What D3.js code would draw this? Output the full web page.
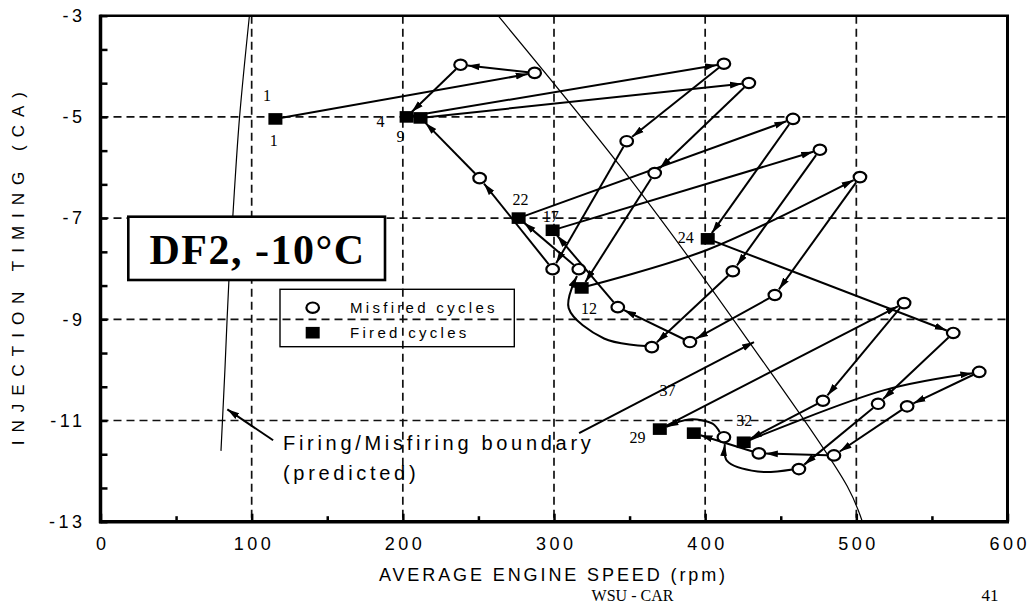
<!DOCTYPE html>
<html>
<head>
<meta charset="utf-8">
<script src="https://cdn.jsdelivr.net/npm/d3@7"></script>
<style>
  html, body { margin: 0; padding: 0; background: #fff; }
  svg { display: block; }
</style>
</head>
<body>
<svg id="chart" width="1031" height="605"></svg>
<script>
// Cycle-by-cycle record: average engine speed (rpm) and injection timing (deg CA)
const cycleNo = [1,2,3,4,5,6,7,8,9,10,11,12,13,14,15,16,17,18,19,20,21,22,23,24,25,26,27,28,29,30,31,32,33,34,35,36,37];
const engineSpeed = [115.7, 287.2, 238.2, 202.5, 412.4, 348.1, 299.1, 250.8, 211.7, 428.9,
                     366.6, 318.3, 502.4, 446.1, 389.9, 342.2, 299.1, 475.9, 418.3, 364.7,
                     316.4, 276.6, 458.1, 401.7, 564.1, 514.4, 462.0, 412.4, 370.0, 531.6,
                     477.9, 425.5, 581.3, 533.6, 485.2, 435.5, 392.5];
const injTiming = [-5.04, -4.13, -3.97, -5.00, -3.95, -5.48, -8.01, -6.21, -5.02, -4.33,
                   -6.11, -8.38, -6.19, -8.52, -9.45, -8.76, -7.24, -5.65, -8.05, -9.55,
                   -8.01, -7.00, -5.04, -7.41, -9.27, -10.67, -11.96, -11.33, -11.17, -8.68,
                   -10.61, -11.43, -10.04, -10.72, -11.69, -11.65, -11.25];
const firedCycles = [1, 4, 9, 12, 17, 22, 24, 29, 32, 37];

// Transitions drawn as bent paths: start cycle and intermediate points
const bendAfter = [12, 20, 27, 28, 32];
const bendSpeed = [[401.1], [333.1, 309.7], [434.7, 414.5], [404.9, 389.2], [518.5]];
const bendTiming = [[-7.63], [-9.38, -8.78], [-12.01, -11.80], [-11.06, -10.98], [-10.40]];

// Predicted firing/misfiring boundaries
const leftBoundarySpeed = [98.5, 92.0, 88.5, 85.0, 82.3, 79.7];
const leftBoundaryTiming = [-3.0, -5.0, -6.5, -8.2, -10.0, -11.6];
const rightBoundarySpeed = [263, 351, 428, 494, 504];
const rightBoundaryTiming = [-3.0, -6.25, -9.4, -12.3, -13.0];

// Cycle number annotations
const labelText = ['1', '1', '4', '9', '22', '17', '12', '24', '29', '32', '37'];
const labelSpeed = [110.2, 114.6, 185.2, 198.5, 277.9, 297.8, 323.2, 387.2, 355.2, 425.8, 375.1];
const labelTiming = [-4.57, -5.46, -5.09, -5.38, -6.63, -6.97, -8.78, -7.39, -11.33, -10.99, -10.40];

// Axes
const xTicks = d3.range(0, 601, 50);
const xTickLabels = [0, 100, 200, 300, 400, 500, 600];
const yTicks = d3.range(16).map(i => -3 - i * 2 / 3);
const yTickLabels = [-3, -5, -7, -9, -11, -13];
const xGrid = [100, 200, 300, 400, 500];
const yGrid = [-5, -7, -9, -11];

const SANS = "'Liberation Sans', Arial, sans-serif";
const SERIF = "'Liberation Serif', 'Times New Roman', serif";

const svg = d3.select('#chart');
const x = d3.scaleLinear().domain([0, 600]).range([100.5, 1007.5]);
const y = d3.scaleLinear().domain([-13, -3]).range([521.7, 15.7]);

const defs = svg.append('defs');
defs.append('marker')
  .attr('id', 'arrow')
  .attr('viewBox', '0 0 12 8')
  .attr('refX', 12).attr('refY', 4)
  .attr('markerWidth', 12).attr('markerHeight', 8)
  .attr('markerUnits', 'userSpaceOnUse')
  .attr('orient', 'auto')
  .append('path').attr('d', 'M0,0.6 L12,4 L0,7.4 Z').attr('fill', '#000');

// Dashed grid
const grid = svg.append('g').attr('stroke', '#111').attr('stroke-width', 1.7).attr('stroke-dasharray', '8,5');
grid.selectAll('line.v').data(xGrid).join('line')
  .attr('x1', d => x(d)).attr('x2', d => x(d))
  .attr('y1', y(-3)).attr('y2', y(-13));
grid.selectAll('line.h').data(yGrid).join('line')
  .attr('y1', d => y(d)).attr('y2', d => y(d))
  .attr('x1', x(0)).attr('x2', x(600));

// Boundary curves
const bLine = d3.line().x(d => x(d[0])).y(d => y(d[1])).curve(d3.curveCatmullRom.alpha(0.5));
svg.append('path')
  .attr('d', bLine(leftBoundarySpeed.map((s, i) => [s, leftBoundaryTiming[i]])))
  .attr('fill', 'none').attr('stroke', '#000').attr('stroke-width', 1.2);
svg.append('path')
  .attr('d', bLine(rightBoundarySpeed.map((s, i) => [s, rightBoundaryTiming[i]])))
  .attr('fill', 'none').attr('stroke', '#000').attr('stroke-width', 1.2);

// Axes with inward ticks
const xAxis = d3.axisBottom(x).tickValues(xTicks).tickSizeOuter(0).tickSize(-6).tickPadding(15.5)
  .tickFormat(d => xTickLabels.includes(d) ? String(d) : '');
const gx = svg.append('g').attr('transform', `translate(0,${y(-13)})`).call(xAxis);
gx.select('.domain').remove();
gx.selectAll('.tick line').attr('stroke', '#000').attr('stroke-width', 2.5)
  .attr('y2', d => xTickLabels.includes(d) ? -8 : -5.5);
gx.selectAll('.tick text').attr('fill', '#000')
  .style('font-family', SANS).style('font-size', '18px').style('letter-spacing', '3.5px')
  .attr('dx', 1.75);

const yAxis = d3.axisLeft(y).tickValues(yTicks).tickSizeOuter(0).tickSize(-7).tickPadding(15)
  .tickFormat(d => {
    const r = Math.round(d);
    return (Math.abs(d - r) < 1e-6 && yTickLabels.includes(r)) ? String(r) : '';
  });
const gy = svg.append('g').attr('transform', `translate(${x(0)},0)`).call(yAxis);
gy.select('.domain').remove();
gy.selectAll('.tick line').attr('stroke', '#000').attr('stroke-width', 2.5);
gy.selectAll('.tick text').attr('fill', '#000')
  .style('font-family', SANS).style('font-size', '18px').style('letter-spacing', '3.5px');

// Frame
const frame = svg.append('g').attr('stroke', '#000').attr('fill', 'none');
frame.append('line').attr('x1', x(0) - 1).attr('x2', x(600) + 1.5).attr('y1', y(-3)).attr('y2', y(-3)).attr('stroke-width', 2.5);
frame.append('line').attr('x1', x(600)).attr('x2', x(600)).attr('y1', y(-3)).attr('y2', y(-13)).attr('stroke-width', 3);
frame.append('line').attr('x1', x(0)).attr('x2', x(0)).attr('y1', y(-3) - 1).attr('y2', y(-13) + 1.5).attr('stroke-width', 3.5);
frame.append('line').attr('x1', x(0) - 1.5).attr('x2', x(600) + 1.5).attr('y1', y(-13)).attr('y2', y(-13)).attr('stroke-width', 3.5);

// Cycle-to-cycle transitions
function towards(a, b, d) {
  const dx = b[0] - a[0], dy = b[1] - a[1], L = Math.hypot(dx, dy);
  return [a[0] + dx / L * d, a[1] + dy / L * d];
}
const pathLine = d3.line().curve(d3.curveCatmullRom.alpha(0.5));
const gPaths = svg.append('g').attr('fill', 'none').attr('stroke', '#000').attr('stroke-width', 2);
for (let i = 0; i < cycleNo.length - 1; i++) {
  const a = [x(engineSpeed[i]), y(injTiming[i])];
  const b = [x(engineSpeed[i + 1]), y(injTiming[i + 1])];
  const k = bendAfter.indexOf(cycleNo[i]);
  const via = k < 0 ? [] : bendSpeed[k].map((s, j) => [x(s), y(bendTiming[k][j])]);
  const chain = [a, ...via, b];
  chain[0] = towards(chain[0], chain[1], 6.5);
  const n = chain.length - 1;
  chain[n] = towards(chain[n], chain[n - 1], 7);
  gPaths.append('path').attr('d', pathLine(chain)).attr('marker-end', 'url(#arrow)');
}

// Markers: open ellipses for misfired cycles, filled squares for fired cycles
const marks = svg.append('g');
cycleNo.forEach((c, i) => {
  const cx = x(engineSpeed[i]), cy = y(injTiming[i]);
  if (firedCycles.includes(c)) {
    marks.append('rect').attr('x', cx - 7).attr('y', cy - 5.8).attr('width', 14).attr('height', 11.6).attr('fill', '#000');
  } else {
    marks.append('ellipse').attr('cx', cx).attr('cy', cy).attr('rx', 6.3).attr('ry', 5.2)
      .attr('fill', '#fff').attr('stroke', '#000').attr('stroke-width', 2.2);
  }
});

// Cycle number labels
svg.append('g').selectAll('text').data(labelText).join('text')
  .attr('x', (d, i) => x(labelSpeed[i])).attr('y', (d, i) => y(labelTiming[i]))
  .attr('text-anchor', 'middle').attr('dy', '0.35em')
  .style('font-family', SERIF).style('font-size', '16px').attr('fill', '#000')
  .text(d => d);

// Boundary annotation with arrows to both curves
const note = svg.append('g');
note.append('line')
  .attr('x1', x(114.2)).attr('y1', y(-11.39)).attr('x2', x(83.9)).attr('y2', y(-10.78))
  .attr('stroke', '#000').attr('stroke-width', 2).attr('marker-end', 'url(#arrow)');
note.append('line')
  .attr('x1', x(316.6)).attr('y1', y(-11.25)).attr('x2', x(432.3)).attr('y2', y(-9.45))
  .attr('stroke', '#000').attr('stroke-width', 2).attr('marker-end', 'url(#arrow)');
note.append('text').attr('x', 283).attr('y', 450)
  .style('font-family', SANS).style('font-size', '20px').style('letter-spacing', '3.7px')
  .text('Firing/Misfiring boundary');
note.append('text').attr('x', 283).attr('y', 480)
  .style('font-family', SANS).style('font-size', '20px').style('letter-spacing', '3.7px')
  .text('(predicted)');

// Condition box
const tb = svg.append('g');
tb.append('rect').attr('x', 128.3).attr('y', 216.7).attr('width', 256.7).attr('height', 63.3)
  .attr('fill', '#fff').attr('stroke', '#000').attr('stroke-width', 2.6);
tb.append('text').attr('x', 257.5).attr('y', 263.5).attr('text-anchor', 'middle')
  .style('font-family', SERIF).style('font-weight', 'bold').style('font-size', '42px')
  .style('letter-spacing', '1.5px')
  .text('DF2, -10°C');

// Legend
const lg = svg.append('g');
lg.append('rect').attr('x', 280).attr('y', 289.3).attr('width', 234.3).attr('height', 57.4)
  .attr('fill', 'none').attr('stroke', '#000').attr('stroke-width', 1.4);
lg.append('ellipse').attr('cx', 312.7).attr('cy', 307.7).attr('rx', 6.3).attr('ry', 5.2)
  .attr('fill', '#fff').attr('stroke', '#000').attr('stroke-width', 2.2);
lg.append('rect').attr('x', 305.7).attr('y', 326.9).attr('width', 14).attr('height', 11.6).attr('fill', '#000');
lg.append('text').attr('x', 350).attr('y', 313)
  .style('font-family', SANS).style('font-size', '15px').style('letter-spacing', '3.3px')
  .text('Misfired cycles');
lg.append('text').attr('x', 350).attr('y', 338)
  .style('font-family', SANS).style('font-size', '15px').style('letter-spacing', '3.3px')
  .text('Fired cycles');

// Axis titles
svg.append('text').attr('x', 552 + 1.45).attr('y', 581).attr('text-anchor', 'middle')
  .style('font-family', SANS).style('font-size', '18px').style('letter-spacing', '2.9px')
  .text('AVERAGE ENGINE SPEED (rpm)');
svg.append('text').attr('transform', 'translate(24,268.7) rotate(-90)').attr('text-anchor', 'middle')
  .attr('dx', 4)
  .style('font-family', SANS).style('font-size', '17px').style('letter-spacing', '8px')
  .text('INJECTION TIMING (CA)');

// Footer
svg.append('text').attr('x', 632.5).attr('y', 601).attr('text-anchor', 'middle')
  .style('font-family', SERIF).style('font-size', '16px')
  .text('WSU - CAR');
svg.append('text').attr('x', 990).attr('y', 601).attr('text-anchor', 'middle')
  .style('font-family', SERIF).style('font-size', '17px')
  .text('41');
</script>
</body>
</html>
